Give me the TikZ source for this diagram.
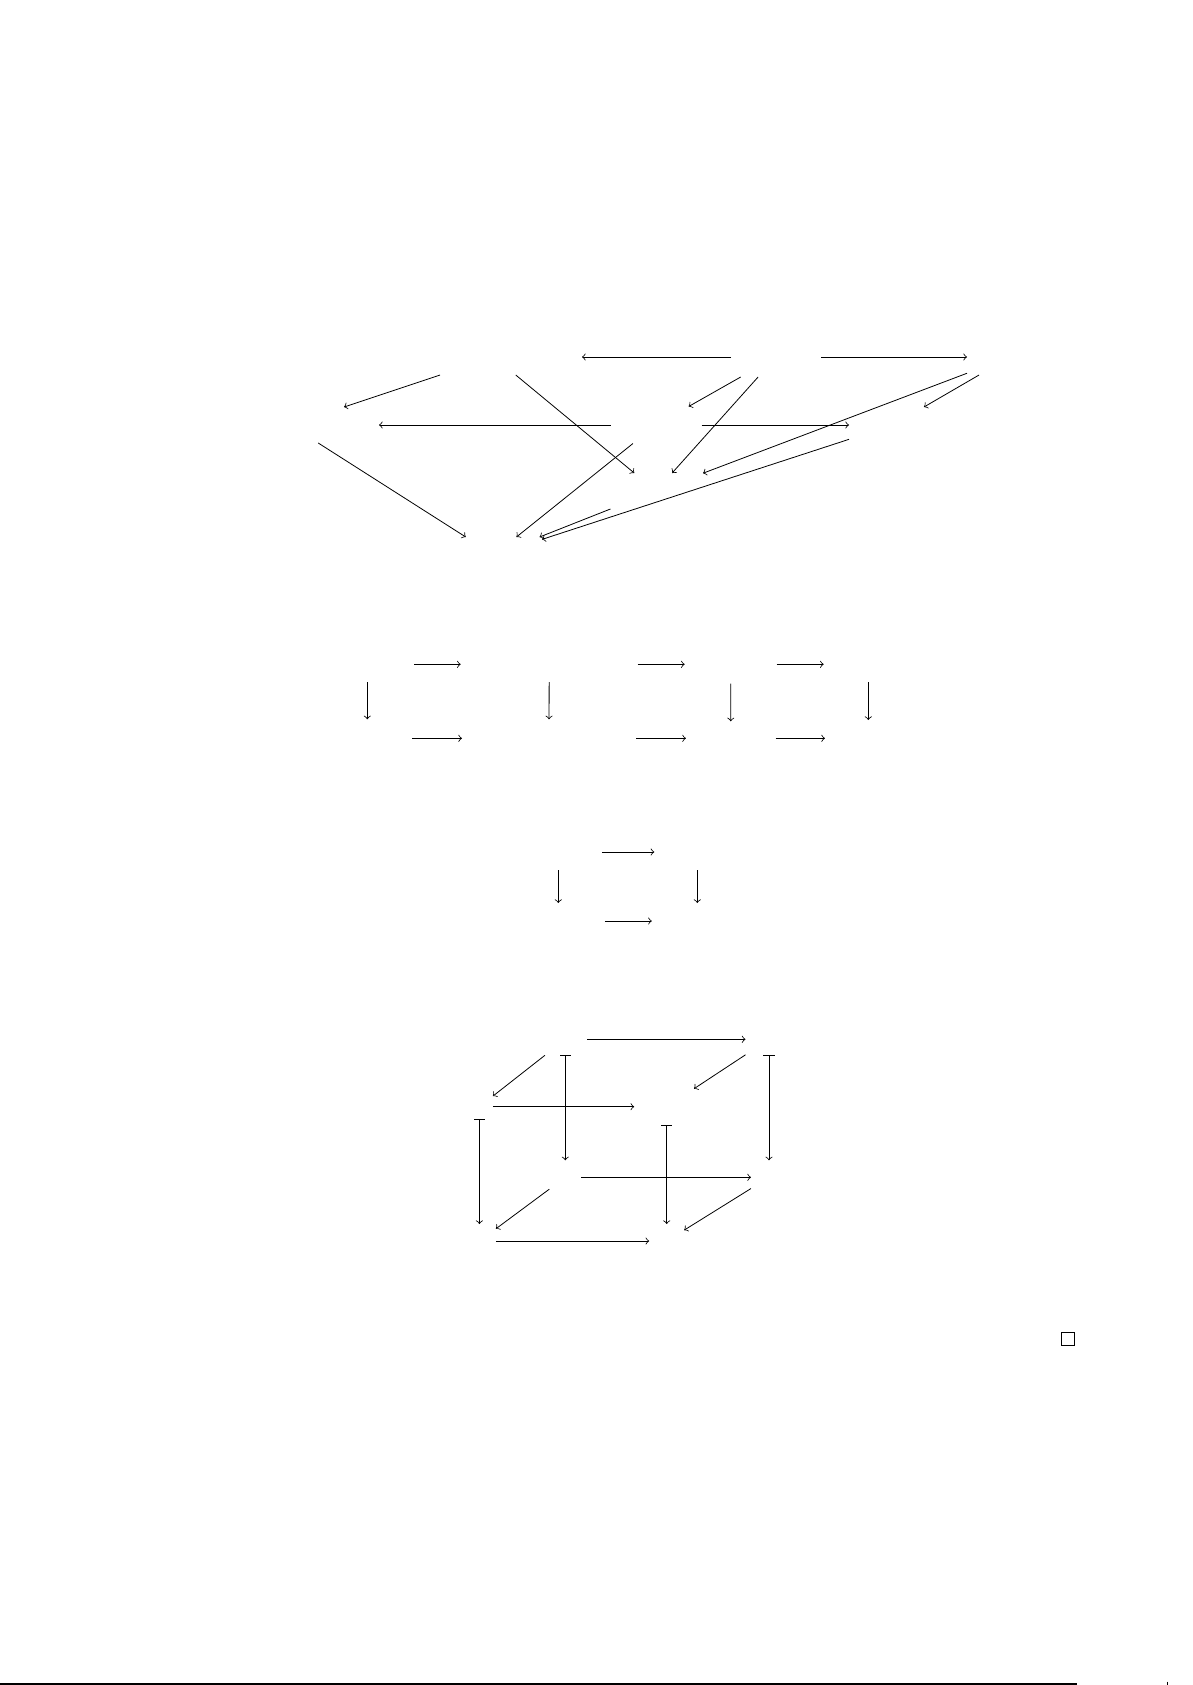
\documentclass[tikz,border=0pt]{standalone}
\usetikzlibrary{arrows}

\newlength{\pxu}
\setlength{\pxu}{0.0176174cm}
\tikzset{
  obj/.style 2 args={inner sep=0pt, outer sep=0pt, minimum width=#1*\pxu, minimum height=#2*\pxu},
  qedbox/.style={draw, obj={13}{13}}
}

\begin{document}
\begin{tikzpicture}[x=0.0176174cm, y=-0.0176174cm, thin]
  \useasboundingbox (0,0) rectangle (1192,1685);

  % Top diagram
  \node[obj={176}{36}] (o1) at (494,357) {};
  \node[obj={90}{40}]  (o2) at (776,357) {};
  \node[obj={86}{36}]  (o3) at (1010,357) {};
  \node[obj={178}{36}] (o4) at (290,425) {};
  \node[obj={91}{37}]  (o5) at (656,425) {};
  \node[obj={88}{36}]  (o6) at (893,425) {};
  \node[obj={94}{36}]  (o7) at (656,491) {};
  \node[obj={96}{36}]  (o8) at (494,555) {};

  \path[->]
  (o2) edge (o1)
  (o2) edge (o3)
  (o1) edge (o4)
  (o1) edge (o7)
  (o2) edge (o5)
  (o2) edge (o7)
  (o3) edge (o7)
  (o3) edge (o6)
  (o5) edge (o4)
  (o5) edge (o6)
  (o4) edge (o8)
  (o5) edge (o8)
  (o7) edge (o8)
  (o6) edge (o8);

  % Row of squares
  \node[obj={93.4}{35.4}] (a1) at (367.3,664.3) {};
  \node[obj={177}{35.4}]  (a2) at (549.2,664.3) {};
  \node[obj={92}{38.8}]   (a3) at (730.7,664.3) {};
  \node[obj={89.2}{35.4}] (a4) at (868.3,664.3) {};
  \node[obj={89.4}{38}]   (b1) at (367.3,738.3) {};
  \node[obj={174}{38}]    (b2) at (549,738.3) {};
  \node[obj={89.7}{34}]   (b3) at (730.8,738.3) {};
  \node[obj={86.6}{36.6}] (b4) at (868.3,738.3) {};

  \path[->]
  (a1) edge (a2)
  (a2) edge (a3)
  (a3) edge (a4)
  (b1) edge (b2)
  (b2) edge (b3)
  (b3) edge (b4)
  (a1) edge (b1)
  (a2) edge (b2)
  (a3) edge (b3)
  (a4) edge (b4);

  % Single square
  \node[obj={87}{36}] (c1) at (558.3,852) {};
  \node[obj={86}{36}] (c2) at (697.3,852) {};
  \node[obj={93}{36}] (d1) at (558.3,921) {};
  \node[obj={91}{36}] (d2) at (697.3,921) {};

  \path[->]
  (c1) edge (c2)
  (d1) edge (d2)
  (c1) edge (d1)
  (c2) edge (d2);

  % Cube
  \node[obj={44}{32}] (btl) at (565.3,1039.3) {};
  \node[obj={47}{32}] (btr) at (769,1039.3) {};
  \node[obj={27}{25}] (ftl) at (479.4,1106.7) {};
  \node[obj={65}{36}] (ftr) at (666.7,1106.7) {};
  \node[obj={32}{34}] (bbl) at (565.3,1177.3) {};
  \node[obj={36}{34}] (bbr) at (769,1177.3) {};
  \node[obj={33}{34}] (fbl) at (479.4,1241) {};
  \node[obj={35}{34}] (fbr) at (666.7,1241) {};

  \path[->]
  (btl) edge (btr)
  (btl) edge (ftl)
  (btr) edge (ftr)
  (ftl) edge (ftr)
  (bbl) edge (bbr)
  (bbl) edge (fbl)
  (bbr) edge (fbr)
  (fbl) edge (fbr);

  \path[|->]
  (btl) edge (bbl)
  (btr) edge (bbr)
  (ftl) edge (fbl)
  (ftr) edge (fbr);

  % End of proof and page foot
  \node[qedbox] (qed) at (1067.5,1338.5) {};
  \coordinate (rulel) at (0,1684);
  \coordinate (ruler) at (1077,1684);
  \coordinate (ticka) at (1167.7,1681.5);
  \coordinate (tickb) at (1167.7,1685);
  \draw[line width=0.6pt] (rulel) -- (ruler);
  \draw (ticka) -- (tickb);
\end{tikzpicture}
\end{document}
